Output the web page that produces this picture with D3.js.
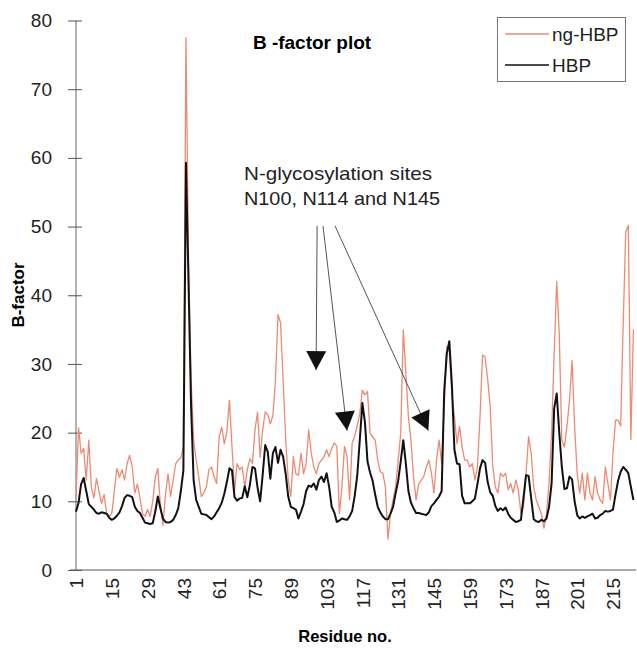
<!DOCTYPE html>
<html>
<head>
<meta charset="utf-8">
<script src="https://cdn.jsdelivr.net/npm/d3@7"></script>
<style>
  body { margin: 0; background: #fff; }
  text { font-family: "Liberation Sans", Arial, sans-serif; }
</style>
</head>
<body>
<svg width="637" height="648"></svg>
<script>
// residue tick labels, one every 14 positions (numbering has a gap after 43)
var xTickLabels = ["1", "15", "29", "43", "61", "75", "89", "103", "117", "131", "145", "159", "173", "187", "201", "215"];
var yTicks = [0, 10, 20, 30, 40, 50, 60, 70, 80];
var seriesNames = ["ng-HBP", "HBP"];

// B-factors, one value per residue position
var ngHBP = [
  10.5, 20.7, 17.0, 17.7, 13.1, 18.9, 12.0, 10.5, 13.3, 11.5,
  9.7, 11.0, 8.2, 7.8, 8.2, 11.5, 14.8, 13.5, 14.6, 13.1,
  15.5, 16.7, 15.0, 11.2, 12.5, 10.5, 8.2, 7.8, 8.8, 7.8,
  10.0, 13.5, 14.8, 9.5, 6.5, 11.0, 14.0, 10.7, 13.1, 15.5,
  16.0, 16.3, 18.0, 77.5, 45.0, 28.0, 18.9, 16.0, 13.6, 10.7,
  11.2, 12.1, 14.6, 15.0, 13.6, 12.6, 19.4, 20.8, 18.4, 20.0,
  24.7, 18.0, 11.5, 15.5, 14.6, 15.0, 12.1, 14.6, 16.2, 15.5,
  20.4, 23.0, 16.4, 20.4, 23.0, 22.6, 21.3, 22.5, 27.6, 37.2,
  36.0, 27.7, 19.0, 13.1, 10.7, 16.5, 14.0, 13.8, 17.0, 14.0,
  15.5, 20.4, 17.0, 15.0, 14.0, 15.5, 16.0, 16.5, 17.5, 16.5,
  17.7, 18.5, 18.0, 8.2, 12.1, 18.0, 16.5, 10.2, 18.5, 19.5,
  21.0, 22.8, 26.2, 25.5, 26.0, 19.9, 19.4, 18.9, 16.0, 14.3,
  14.1, 12.1, 4.5, 8.2, 10.2, 12.1, 16.0, 19.9, 35.0, 28.6,
  22.3, 18.9, 13.6, 10.2, 12.5, 13.1, 13.6, 15.0, 16.0, 14.1,
  11.2, 16.0, 18.9, 15.5, 23.8, 32.5, 31.8, 25.7, 22.3, 18.4,
  20.9, 17.9, 16.0, 16.0, 15.0, 15.5, 13.1, 15.0, 22.3, 31.3,
  31.0, 27.7, 23.8, 15.0, 12.1, 11.2, 14.1, 13.6, 14.1, 11.7,
  12.6, 11.2, 13.1, 11.7, 8.2, 9.2, 14.1, 19.4, 17.0, 12.1,
  10.2, 9.2, 8.2, 6.1, 8.2, 12.6, 20.0, 31.5, 42.0, 34.3,
  18.9, 17.9, 20.9, 24.7, 30.5, 20.9, 14.1, 11.2, 14.1, 10.2,
  14.1, 11.2, 10.2, 13.6, 11.2, 10.2, 9.7, 15.0, 12.6, 10.2,
  17.0, 21.8, 21.8, 21.0, 36.0, 49.2, 50.2, 19.0, 35.0
];

var HBP = [
  8.5, 9.8, 12.5, 13.4, 11.5, 9.6, 9.2, 8.8, 8.3, 8.2,
  8.4, 8.3, 8.2, 7.6, 7.3, 7.5, 7.9, 8.4, 9.3, 10.5,
  10.9, 10.8, 10.6, 9.2, 8.6, 8.3, 7.6, 6.9, 6.8, 6.7,
  6.8, 8.5, 10.7, 9.0, 7.5, 7.0, 6.9, 7.0, 7.3, 8.0,
  9.0, 11.5, 14.5, 59.3, 42.0, 24.0, 13.1, 10.2, 9.2, 8.2,
  8.1, 8.0, 7.7, 7.4, 7.8, 8.4, 9.0, 9.8, 11.1, 12.8,
  14.8, 14.5, 10.6, 10.1, 10.4, 10.5, 12.2, 10.6, 12.4, 15.0,
  14.8, 12.0, 10.0, 13.8, 18.2, 17.2, 13.3, 17.0, 17.9, 15.6,
  17.5, 16.5, 14.0, 10.7, 9.2, 9.0, 8.8, 7.5, 8.5, 9.6,
  11.5, 12.3, 12.1, 12.6, 11.7, 13.1, 13.6, 12.8, 14.1, 12.1,
  9.2, 8.4, 7.0, 7.2, 7.5, 7.4, 7.3, 7.8, 8.6, 10.8,
  13.8, 19.0, 24.3, 21.5, 15.8, 14.2, 13.0, 11.0, 9.2, 8.4,
  7.8, 7.4, 7.4, 8.2, 9.2, 11.2, 13.0, 15.8, 18.9, 15.5,
  11.5, 9.8, 9.0, 8.3, 8.3, 8.2, 8.1, 8.0, 8.4, 9.3,
  9.7, 10.2, 10.7, 11.5, 26.0, 31.5, 33.3, 27.0, 17.5, 15.5,
  15.4, 10.8, 9.7, 9.7, 9.7, 10.0, 10.4, 12.5, 14.8, 16.0,
  15.6, 12.8, 11.3, 10.8, 9.3, 8.6, 9.0, 8.7, 9.1, 8.2,
  7.6, 7.3, 7.0, 7.1, 7.3, 10.5, 13.8, 13.7, 10.5, 7.4,
  7.1, 7.0, 7.3, 7.1, 7.5, 9.2, 12.6, 23.5, 25.7, 20.0,
  15.0, 11.8, 11.9, 13.6, 13.2, 10.0, 8.0, 7.5, 7.8, 7.6,
  7.8, 8.0, 8.2, 7.5, 7.6, 8.0, 8.2, 8.6, 8.5, 8.6,
  8.8, 11.0, 13.0, 14.3, 15.0, 14.6, 14.1, 12.1, 10.2
];

// annotation arrows: [startIndex, startValue, tipIndex, tipValue]
var arrowsData = [
  [94.3, 50.1, 93.9, 29.1],
  [96.6, 50.1, 106.0, 20.3],
  [101.3, 50.1, 137.8, 20.3]
];
var noteLines = ["N-glycosylation sites", "N100, N114 and N145"];
var noteWidths = [188, 196];

var svg = d3.select("svg"),
    plotLeft = 76, plotRight = 636, plotTop = 20.5, plotBottom = 570;

var x = d3.scaleLinear()
    .domain([0, ngHBP.length - 1])
    .range([plotLeft, plotLeft + (ngHBP.length - 1) * 2.557]);

var y = d3.scaleLinear()
    .domain([0, 80])
    .range([plotBottom, plotTop]);

var line = d3.line()
    .x(function(d, i) { return x(i); })
    .y(function(d) { return y(d); });

// x axis: plain line, rotated labels, no ticks
var xAxis = svg.append("g")
    .attr("transform", "translate(0," + plotBottom + ")")
    .call(d3.axisBottom(x)
        .tickValues(d3.range(0, 211, 14))
        .tickFormat(function(d, i) { return xTickLabels[i]; })
        .tickSize(0));
xAxis.select(".domain").attr("d", "M70,0H" + plotRight).attr("stroke", "#555");
xAxis.selectAll(".tick text")
    .attr("transform", "rotate(-90)")
    .attr("x", -8).attr("y", 0).attr("dy", "0.35em")
    .attr("text-anchor", "end")
    .attr("fill", "#222")
    .style("font-size", "19px");

// y axis, ticks cross the axis line
var yAxis = svg.append("g")
    .attr("transform", "translate(" + plotLeft + ",0)")
    .call(d3.axisLeft(y).tickValues(yTicks).tickSize(8).tickPadding(16));
yAxis.select(".domain").attr("d", "M0," + plotTop + "V" + plotBottom).attr("stroke", "#666");
yAxis.selectAll(".tick line").attr("x1", 6).attr("stroke", "#555");
yAxis.selectAll(".tick text")
    .attr("fill", "#222")
    .style("font-size", "19px");

// series
svg.append("path")
    .datum(ngHBP)
    .attr("fill", "none")
    .attr("stroke", "#ec8a72")
    .attr("stroke-width", 1.3)
    .attr("stroke-linejoin", "round")
    .attr("d", line);

svg.append("path")
    .datum(HBP)
    .attr("fill", "none")
    .attr("stroke", "#111")
    .attr("stroke-width", 2)
    .attr("stroke-linejoin", "round")
    .attr("d", line);

// titles
svg.append("text")
    .attr("x", 312).attr("y", 49)
    .attr("text-anchor", "middle")
    .style("font-size", "19px").style("font-weight", "bold")
    .text("B -factor plot");

svg.append("text")
    .attr("x", 345).attr("y", 642)
    .attr("text-anchor", "middle")
    .style("font-size", "16.5px").style("font-weight", "bold")
    .text("Residue no.");

svg.append("text")
    .attr("transform", "translate(24,295) rotate(-90)")
    .attr("text-anchor", "middle")
    .style("font-size", "17px").style("font-weight", "bold")
    .text("B-factor");

// annotation
svg.append("text")
    .selectAll("tspan")
    .data(noteLines)
    .enter().append("tspan")
    .attr("x", x(65.7))
    .attr("y", function(d, i) { return y(56.8) + i * 25; })
    .attr("textLength", function(d, i) { return noteWidths[i]; })
    .attr("lengthAdjust", "spacingAndGlyphs")
    .style("font-size", "19px")
    .attr("fill", "#222")
    .text(function(d) { return d; });

var defs = svg.append("defs");
defs.append("marker")
    .attr("id", "head")
    .attr("markerUnits", "userSpaceOnUse")
    .attr("markerWidth", 22).attr("markerHeight", 22)
    .attr("viewBox", "-20 -11 22 22")
    .attr("refX", 0).attr("refY", 0)
    .attr("orient", "auto")
    .append("path")
    .attr("d", "M0,0L-19,-10L-19,10Z")
    .attr("fill", "#111");

svg.selectAll(".arrow")
    .data(arrowsData)
    .enter().append("line")
    .attr("class", "arrow")
    .attr("x1", function(d) { return x(d[0]); })
    .attr("y1", function(d) { return y(d[1]); })
    .attr("x2", function(d) { return x(d[2]); })
    .attr("y2", function(d) { return y(d[3]); })
    .attr("stroke", "#555")
    .attr("stroke-width", 1)
    .attr("marker-end", "url(#head)");

// legend
var legend = svg.append("g");
legend.append("rect")
    .attr("x", 497.5).attr("y", 17.5)
    .attr("width", 128).attr("height", 64)
    .attr("fill", "#fff")
    .attr("stroke", "#777");
var item = legend.selectAll(".item")
    .data(seriesNames)
    .enter().append("g")
    .attr("class", "item")
    .attr("transform", function(d, i) { return "translate(0," + (34 + i * 31) + ")"; });
item.append("line")
    .attr("x1", 505).attr("x2", 549)
    .attr("stroke", function(d, i) { return i === 0 ? "#ec8a72" : "#111"; })
    .attr("stroke-width", function(d, i) { return i === 0 ? 1.3 : 1.5; });
item.append("text")
    .attr("x", 552).attr("dy", "0.35em")
    .style("font-size", "19px")
    .attr("fill", "#222")
    .text(function(d) { return d; });
</script>
</body>
</html>
